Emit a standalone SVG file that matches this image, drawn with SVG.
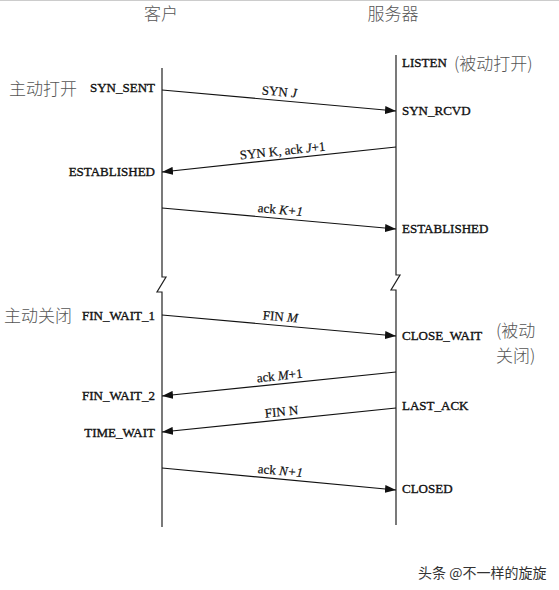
<svg xmlns="http://www.w3.org/2000/svg" width="559" height="590" viewBox="0 0 559 590">
<style>
.st{font-family:"Liberation Serif","DejaVu Serif",serif;font-size:13px;fill:#111;stroke:#111;stroke-width:0.35}
.lb{font-family:"Liberation Serif","DejaVu Serif",serif;font-size:13px;fill:#111;stroke:#111;stroke-width:0.2}
.it{font-style:italic}
.cn{font-family:"Noto Sans CJK SC",sans-serif;font-size:17px;fill:#555;font-weight:300}
.ln{fill:none;stroke:#222;stroke-width:1.2}
.ar{fill:none;stroke:#111;stroke-width:1.2;marker-end:url(#ah)}
</style>
<defs>
<marker id="ah" markerUnits="userSpaceOnUse" markerWidth="11" markerHeight="8" refX="11" refY="4" orient="auto">
<path d="M0,0 L11,4 L0,8 Z" fill="#111"/>
</marker>
</defs>
<rect width="559" height="590" fill="#fff"/>
<line x1="0" y1="0.5" x2="559" y2="0.5" stroke="#ccc"/>
<g id="client">
<text class="cn" x="161" y="20" text-anchor="middle">客户</text>
<path class="ln" d="M162,68 V277 H166 L157,292 H162 V527"/>
</g>
<g id="server">
<text class="cn" x="393" y="20" text-anchor="middle">服务器</text>
<path class="ln" d="M396,55 V275 H400 L391,290 H396 V525"/>
</g>
<g id="connectors">
<line class="ar" x1="162" y1="90" x2="396" y2="111"/>
<line class="ar" x1="396" y1="147" x2="162" y2="172"/>
<line class="ar" x1="162" y1="208" x2="396" y2="229"/>
<line class="ar" x1="162" y1="315" x2="396" y2="336"/>
<line class="ar" x1="396" y1="372" x2="162" y2="396"/>
<line class="ar" x1="396" y1="408" x2="162" y2="432"/>
<line class="ar" x1="162" y1="468" x2="396" y2="490"/>
</g>
<g id="arrow-labels">
<text class="lb" text-anchor="middle" transform="translate(279,96) rotate(5)">SYN <tspan class="it">J</tspan></text>
<text class="lb" text-anchor="middle" transform="translate(283,155) rotate(-6)">SYN K, ack <tspan class="it">J</tspan>+1</text>
<text class="lb" text-anchor="middle" transform="translate(280,214) rotate(5)">ack <tspan class="it">K+1</tspan></text>
<text class="lb" text-anchor="middle" transform="translate(280,321) rotate(5)">FIN <tspan class="it">M</tspan></text>
<text class="lb" text-anchor="middle" transform="translate(280,380) rotate(-6)">ack <tspan class="it">M</tspan>+1</text>
<text class="lb" text-anchor="middle" transform="translate(282,416) rotate(-6)">FIN N</text>
<text class="lb" text-anchor="middle" transform="translate(280,475) rotate(5)">ack <tspan class="it">N+1</tspan></text>
</g>
<g id="client-states">
<text class="cn" x="9" y="95">主动打开</text>
<text class="st" x="155" y="92" text-anchor="end">SYN_SENT</text>
<text class="st" x="155" y="176" text-anchor="end">ESTABLISHED</text>
<text class="cn" x="4" y="322">主动关闭</text>
<text class="st" x="155" y="320" text-anchor="end">FIN_WAIT_1</text>
<text class="st" x="155" y="400" text-anchor="end">FIN_WAIT_2</text>
<text class="st" x="155" y="437" text-anchor="end">TIME_WAIT</text>
</g>
<g id="server-states">
<text class="st" x="402" y="67">LISTEN</text>
<text class="cn" x="454" y="70">(被动打开)</text>
<text class="st" x="402" y="115">SYN_RCVD</text>
<text class="st" x="402" y="233">ESTABLISHED</text>
<text class="st" x="402" y="340">CLOSE_WAIT</text>
<text class="cn" x="496" y="337">(被动</text>
<text class="cn" x="496" y="362">关闭)</text>
<text class="st" x="402" y="410">LAST_ACK</text>
<text class="st" x="402" y="493">CLOSED</text>
</g>
<g id="watermark">
<text class="cn" x="418" y="578" style="font-size:14px;fill:#333;font-weight:400">头条 @不一样的旋旋</text>
</g>
</svg>
